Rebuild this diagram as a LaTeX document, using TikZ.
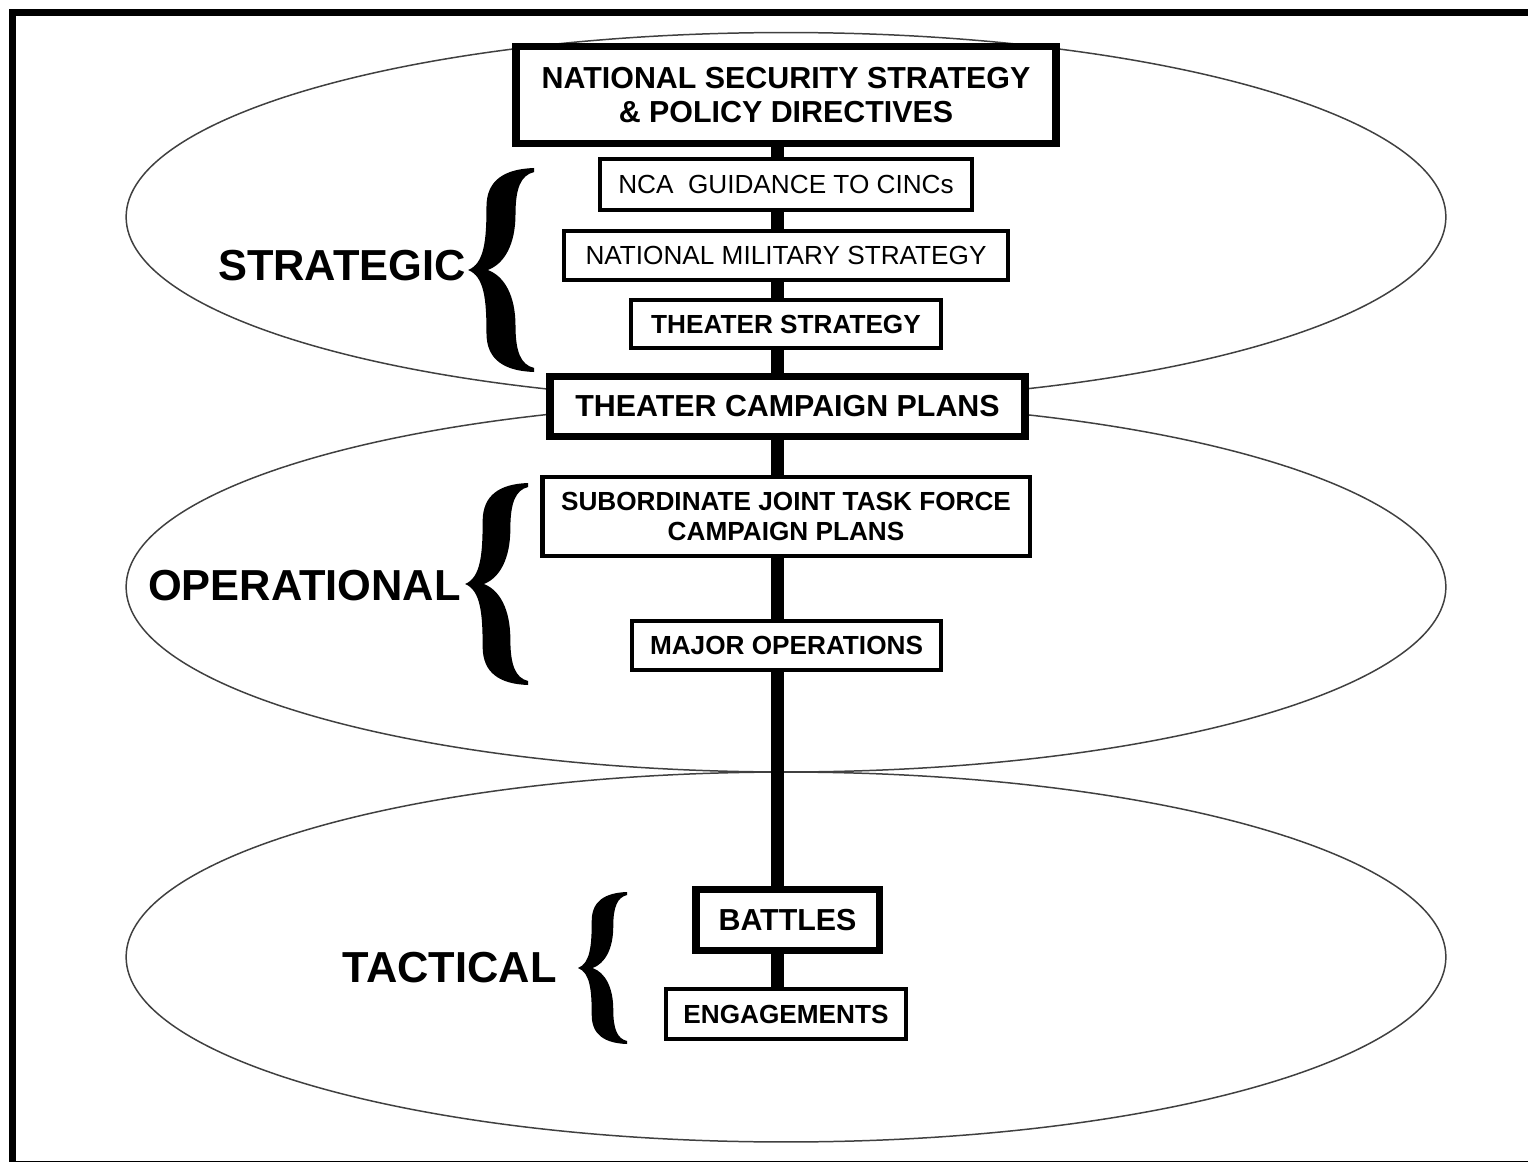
\documentclass[tikz,border=0pt]{standalone}
\usepackage{fontspec}
\setmainfont{Liberation Sans}
\usepackage{tikz}
\usetikzlibrary{calc}
\tikzset{
  plainbox/.style={
    rectangle,
    draw=black, line width=2.5pt,
    fill=white,
    inner sep=0pt,
    align=center,
    font=\fontsize{14.9}{17.6}\selectfont\bfseries},
  lightbox/.style={
    plainbox,
    font=\fontsize{14.9}{17.6}\selectfont},
  heavybox/.style={
    plainbox,
    line width=4.25pt,
    font=\fontsize{17.3}{19.8}\selectfont\bfseries},
  link/.style={draw, line width=7.4pt},
  levelring/.style={draw=black!75, line width=0.85pt},
  levelname/.style={anchor=east, inner sep=0pt,
    font=\fontsize{24.7}{29}\selectfont\bfseries},
  bigbrace/.pic={
    \fill (1,1) .. controls (0.55,0.99) and (0.28,0.88) .. (0.28,0.62)
      .. controls (0.28,0.3) and (0.25,0.06) .. (0,0)
      .. controls (0.25,-0.06) and (0.28,-0.3) .. (0.28,-0.62)
      .. controls (0.28,-0.88) and (0.55,-0.99) .. (1,-1)
      -- (1,-0.96) .. controls (0.8,-0.93) and (0.72,-0.8) .. (0.72,-0.55)
      .. controls (0.72,-0.25) and (0.55,-0.06) .. (0.3,0)
      .. controls (0.55,0.06) and (0.72,0.25) .. (0.72,0.55)
      .. controls (0.72,0.8) and (0.8,0.93) .. (1,0.96) -- cycle;
  },
}

\begin{document}
\begin{tikzpicture}[x=0.02cm, y=-0.02cm]
     \useasboundingbox (0,0) rectangle (1528,1162);
     \draw[line width=4.5pt] (12.5,12.5) rectangle (1532,1164.5);
     % the three levels
     \draw[levelring] (786,217) ellipse [x radius=13.2cm, y radius=3.69cm];
     \draw[levelring] (786,587) ellipse [x radius=13.2cm, y radius=3.7cm];
     \draw[levelring] (786,957) ellipse [x radius=13.2cm, y radius=3.7cm];

     \node[heavybox, minimum width=10.8cm, minimum height=1.93cm] (NationalSecurity) at (786,95)
          {NATIONAL SECURITY STRATEGY\\\& POLICY DIRECTIVES};
     \node[lightbox, minimum width=7.43cm, minimum height=1.01cm] (NcaGuidance) at (786,184.5)
          {NCA\ \ GUIDANCE TO CINCs};
     \node[lightbox, minimum width=8.87cm, minimum height=0.97cm] (MilitaryStrategy) at (786,255.5)
          {NATIONAL MILITARY STRATEGY};
     \node[plainbox, minimum width=6.19cm, minimum height=0.95cm] (TheaterStrategy) at (786,324)
          {THEATER STRATEGY};
     \node[heavybox, minimum width=9.51cm, minimum height=1.19cm] (CampaignPlans) at (787.5,406.5)
          {THEATER CAMPAIGN PLANS};
     \node[plainbox, minimum width=9.75cm, minimum height=1.57cm] (JtfPlans) at (786,516.5)
          {SUBORDINATE JOINT TASK FORCE\\CAMPAIGN PLANS};
     \node[plainbox, minimum width=6.17cm, minimum height=0.97cm] (MajorOperations) at (786.5,645.5)
          {MAJOR OPERATIONS};
     \node[heavybox, minimum width=3.67cm, minimum height=1.21cm] (Battles) at (787.5,920)
          {BATTLES};
     \node[plainbox, minimum width=4.79cm, minimum height=0.99cm] (Engagements) at (786,1014)
          {ENGAGEMENTS};

     \coordinate (Spine) at (777.5,0);
     \foreach \upper/\lower in {NationalSecurity/NcaGuidance, NcaGuidance/MilitaryStrategy,
          MilitaryStrategy/TheaterStrategy, TheaterStrategy/CampaignPlans, CampaignPlans/JtfPlans,
          JtfPlans/MajorOperations, MajorOperations/Battles, Battles/Engagements}
          \draw[link] (\upper.south -| Spine) -- (\lower.north -| Spine);

     \node[levelname] (Strategic) at (466,266) {STRATEGIC};
     \node[levelname] (Operational) at (461,586) {OPERATIONAL};
     \node[levelname] (Tactical) at (557,968) {TACTICAL};

     \pic[xscale=66, yscale=102] at (468,270) {bigbrace};
     \pic[xscale=63, yscale=101] at (465,584) {bigbrace};
     \pic[xscale=49, yscale=76] at (578,968) {bigbrace};
\end{tikzpicture}
\end{document}
